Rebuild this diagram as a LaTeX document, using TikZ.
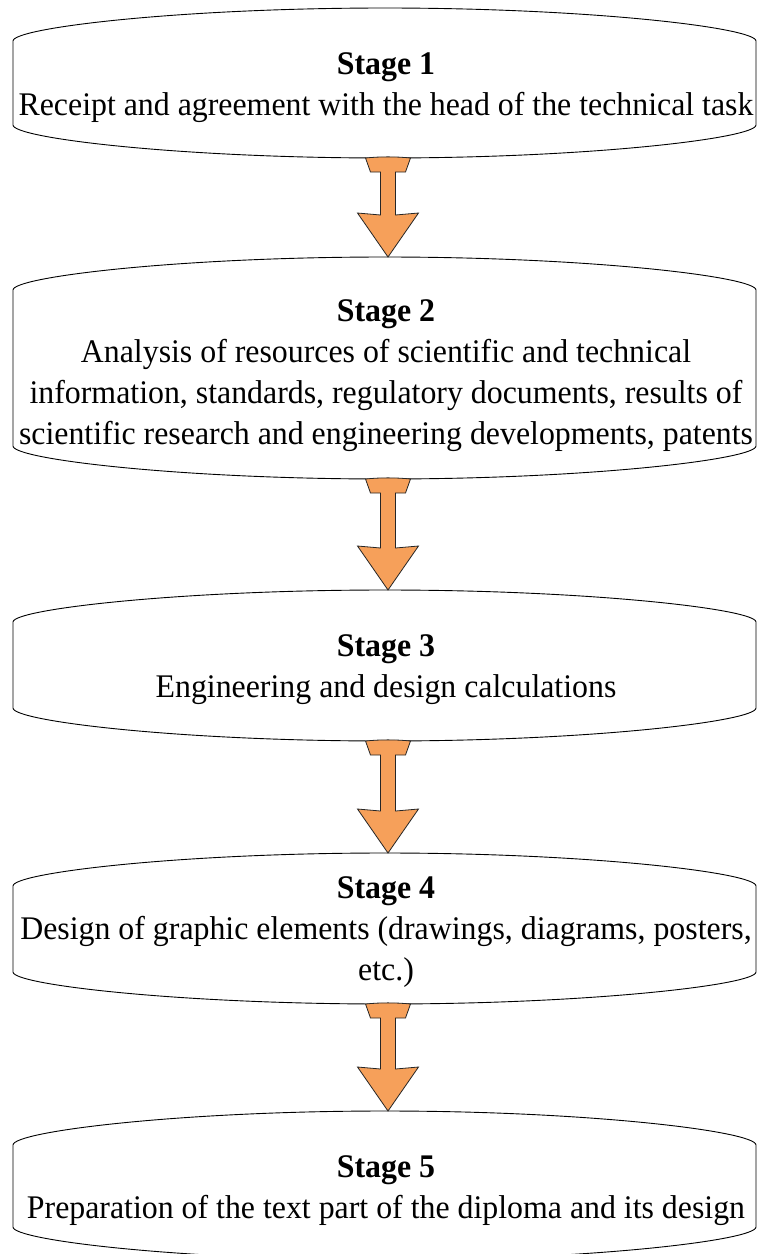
\documentclass[tikz,border=0pt]{standalone}
\usepackage{fontspec}
\setmainfont[FakeStretch=0.965]{Liberation Serif}
\usetikzlibrary{calc}
\definecolor{arrorange}{HTML}{F6A05A}
\tikzset{
  stagebox/.style={draw=black, line width=0.9pt, fill=white},
  stagetext/.style={align=center, font=\fontsize{33}{41}\selectfont, inner sep=0pt},
  flowarrow/.style={draw=black!85, line width=0.8pt, fill=arrorange, line join=miter},
}
% #1 name, #2 top, #3 corner top, #4 corner bottom, #5 bottom
\newcommand{\stageshape}[5]{%
  \draw[stagebox] (13,#3) -- (13,#4)
    .. controls (13,{#4+0.4*(#5-#4)}) and (180,#5) .. (385,#5)
    .. controls (590,#5) and (756,{#4+0.4*(#5-#4)}) .. (756,#4)
    -- (756,#3)
    .. controls (756,{#3-0.4*(#3-#2)}) and (590,#2) .. (385,#2)
    .. controls (180,#2) and (13,{#3-0.4*(#3-#2)}) .. cycle;
  \coordinate (#1top) at (388,#2);
  \coordinate (#1bot) at (388,#5);
}
\newcommand{\flowarrowshape}[2]{%
  \draw[flowarrow] let \p1=(#1), \p2=(#2) in
    (\x1-22.5pt,\y1) .. controls (\x1-8pt,\y1+1.5pt) and (\x1+8pt,\y1+1.5pt) .. (\x1+22.5pt,\y1)
    -- (\x1+17.5pt,\y1-14pt) -- (\x1+7.5pt,\y1-14pt) -- (\x1+7.5pt,\y2+42pt)
    -- (\x1+30.5pt,\y2+44pt) -- (\x2,\y2) -- (\x1-30.5pt,\y2+44pt)
    -- (\x1-7.5pt,\y2+42pt) -- (\x1-7.5pt,\y1-14pt) -- (\x1-17.5pt,\y1-14pt) -- cycle;
}
\begin{document}
\begin{tikzpicture}[x=1pt, y=-1pt]
  \useasboundingbox (0,0) rectangle (757,1254);
  \clip (0,0) rectangle (757,1254);

  \stageshape{b1}{8}{41}{125}{158}
  \stageshape{b2}{257}{290}{446}{479}
  \stageshape{b3}{590}{622}{708}{741}
  \stageshape{b4}{853}{886}{972}{1004}
  \stageshape{b5}{1111}{1145}{1227}{1260}

  \node[stagetext] (s1) at (386,88) {\textbf{Stage 1}\\Receipt and agreement with the head of the technical task};
  \node[stagetext] (s2) at (386,376) {\textbf{Stage 2}\\Analysis of resources of scientific and technical\\information, standards, regulatory documents, results of\\scientific research and engineering developments, patents};
  \node[stagetext] (s3) at (386,670) {\textbf{Stage 3}\\Engineering and design calculations};
  \node[stagetext] (s4) at (386,932) {\textbf{Stage 4}\\Design of graphic elements (drawings, diagrams, posters,\\etc.)};
  \node[stagetext] (s5) at (386,1191) {\textbf{Stage 5}\\Preparation of the text part of the diploma and its design};

  \flowarrowshape{b1bot}{b2top}
  \flowarrowshape{b2bot}{b3top}
  \flowarrowshape{b3bot}{b4top}
  \flowarrowshape{b4bot}{b5top}
\end{tikzpicture}
\end{document}
